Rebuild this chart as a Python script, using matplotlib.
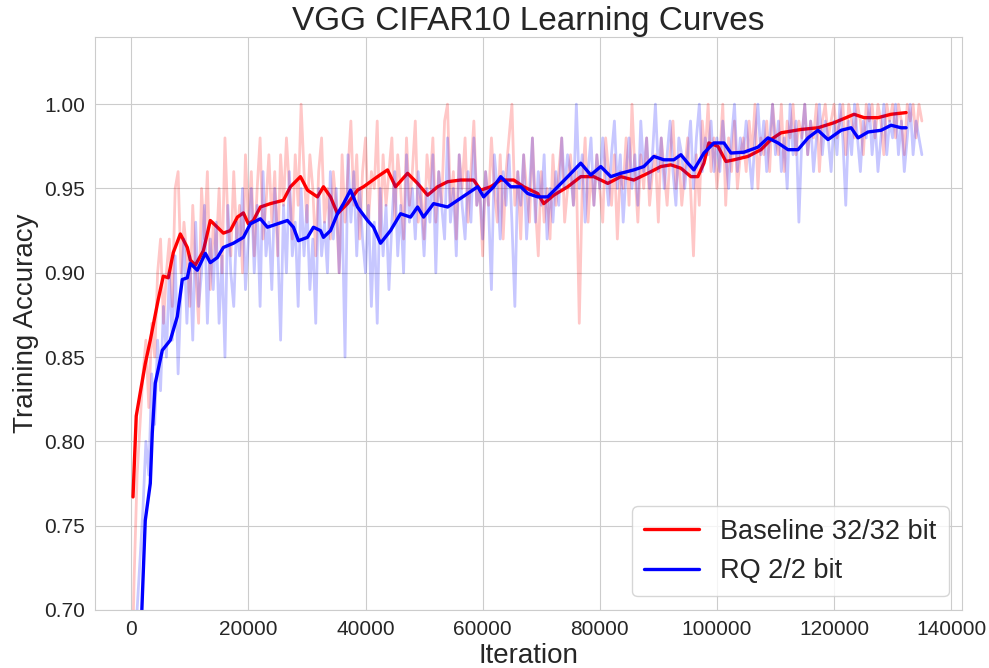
import numpy as np
import matplotlib
matplotlib.use("Agg")
import matplotlib.pyplot as plt
import seaborn as sns

# raw training accuracy (percent), one sample every 500 iterations
raw_iter = np.arange(0, 135500, 500)

baseline_raw = [
    64, 72, 78, 81, 84, 86, 82, 87, 85, 90,
    92, 87, 90, 92, 88, 95, 96, 90, 93, 91,
    88, 94, 90, 87, 95, 92, 96, 89, 93, 91,
    95, 90, 98, 93, 91, 96, 92, 94, 90, 97,
    93, 96, 91, 95, 98, 92, 94, 97, 93, 96,
    91, 97, 94, 98, 95, 92, 97, 94, 100, 96,
    93, 97, 95, 91, 96, 98, 93, 95, 92, 96,
    94, 90, 97, 93, 96, 99, 94, 97, 92, 96,
    98, 93, 96, 95, 99, 92, 97, 94, 96, 98,
    93, 97, 95, 92, 98, 94, 96, 99, 93, 95,
    92, 97, 95, 98, 93, 96, 94, 99, 100, 94,
    96, 92, 97, 95, 98, 93, 96, 99, 94, 95,
    91, 96, 94, 98, 95, 93, 97, 92, 96, 98,
    100, 94, 96, 92, 97, 95, 93, 98, 94, 91,
    96, 93, 95, 92, 97, 94, 96, 98, 93, 95,
    97, 94, 96, 87, 95, 98, 93, 96, 94, 97,
    95, 93, 98, 96, 94, 97, 92, 96, 95, 98,
    94, 100, 96, 93, 97, 95, 98, 94, 96, 97,
    93, 98, 96, 94, 97, 99, 95, 97, 94, 96,
    98, 95, 91, 97, 94, 99, 97, 100, 96, 98,
    95, 97, 100, 94, 98, 96, 99, 95, 97, 98,
    96, 99, 97, 100, 95, 98, 97, 99, 96, 100,
    98, 97, 100, 96, 99, 98, 100, 97, 99, 98,
    100, 97, 99, 98, 100, 96, 99, 100, 98, 99,
    100, 98, 99, 100, 97, 100, 99, 98, 100, 99,
    97, 100, 99, 100, 98, 100, 99, 97, 100, 99,
    100, 98, 100, 99, 97, 100, 99, 100, 98, 100,
    99,
]

rq_raw = [
    60, 66, 70, 73, 76, 80, 78, 84, 81, 86,
    83, 88, 85, 90, 86, 91, 84, 89, 92, 87,
    91, 86, 93, 88, 90, 94, 87, 92, 89, 93,
    87, 91, 85, 94, 90, 88, 93, 91, 95, 89,
    92, 95, 90, 94, 88, 96, 91, 93, 89, 95,
    92, 86, 94, 90, 96, 91, 93, 88, 95, 91,
    94, 89, 92, 87, 95, 91, 93, 90, 96, 92,
    95, 90, 94, 85, 97, 93, 96, 91, 95, 92,
    90, 94, 88, 93, 87, 95, 91, 94, 89, 93,
    96, 91, 94, 90, 97, 93, 95, 92, 96, 94,
    91, 95, 93, 97, 90, 96, 94, 92, 98, 93,
    95, 91, 97, 94, 92, 96, 93, 98, 94, 95,
    92, 96, 94, 89, 97, 95, 92, 96, 94, 97,
    93, 88, 96, 94, 97, 92, 95, 98, 93, 96,
    94, 97, 92, 95, 93, 96, 94, 98, 95, 97,
    96, 94, 100, 95, 97, 93, 96, 98, 94, 97,
    95, 98, 96, 94, 97, 99, 95, 97, 93, 96,
    98, 95, 97, 94, 99, 96, 98, 95, 97, 100,
    96, 98, 95, 97, 99, 96, 94, 98, 97, 95,
    97, 99, 95, 98, 100, 96, 98, 97, 99, 96,
    98, 96, 99, 97, 95, 98, 100, 96, 98, 97,
    99, 97, 95, 98, 100, 97, 99, 96, 98, 100,
    97, 99, 96, 98, 95, 100, 97, 99, 93, 98,
    100, 97, 99, 96, 98, 100, 97, 99, 98, 96,
    99, 97, 100, 98, 94, 99, 97, 100, 98, 96,
    99, 98, 100, 97, 99, 96, 98, 100, 97, 99,
    98, 100, 97, 99, 96, 98, 100, 97, 99, 98,
    97,
]

# smoothed curves
baseline_iter = [300, 850, 1540, 2390, 3250, 4600, 5470, 6320, 7180, 8380,
                 9570, 10090, 10940, 12310, 13500, 14700, 15730, 16920, 18120, 19150,
                 20000, 20850, 22050, 23760, 25980, 27180, 28890, 30090, 31790, 32820,
                 34020, 35210, 36920, 38630, 39660, 42050, 43760, 45130, 47180, 48890,
                 50600, 52310, 54020, 56240, 58460, 59660, 61370, 63080, 65300, 67010,
                 69400, 70430, 72140, 74530, 76750, 78970, 81370, 83590, 85810, 88200,
                 90430, 92140, 93850, 95560, 96750, 97780, 98630, 100170, 101540, 102910,
                 105300, 107520, 109230, 110940, 114360, 117260, 120000, 123420, 125130, 127520,
                 129740, 132310]
baseline_smooth = [0.767, 0.815, 0.829, 0.846, 0.860, 0.884, 0.898, 0.897, 0.912, 0.923,
                   0.915, 0.9075, 0.9045, 0.913, 0.931, 0.927, 0.9235, 0.925, 0.933, 0.9355,
                   0.929, 0.931, 0.939, 0.941, 0.943, 0.951, 0.957, 0.949, 0.945, 0.951,
                   0.945, 0.935, 0.941, 0.949, 0.951, 0.957, 0.961, 0.951, 0.959, 0.953,
                   0.946, 0.951, 0.954, 0.955, 0.955, 0.949, 0.951, 0.955, 0.955, 0.951,
                   0.947, 0.941, 0.946, 0.951, 0.957, 0.957, 0.953, 0.957, 0.955, 0.959,
                   0.963, 0.964, 0.962, 0.957, 0.957, 0.965, 0.977, 0.975, 0.966, 0.967,
                   0.969, 0.973, 0.979, 0.983, 0.985, 0.986, 0.989, 0.994, 0.992, 0.992,
                   0.994, 0.995]

rq_iter = [1700, 2390, 3250, 3590, 4100, 4440, 5300, 6670, 7860, 8720,
           9570, 10090, 11280, 12650, 13500, 14700, 15730, 17440, 19150, 20340,
           22050, 23250, 24960, 26670, 27690, 28550, 30090, 31110, 32310, 32820,
           34020, 35210, 36240, 37440, 38630, 40340, 41370, 42560, 44270, 45980,
           47690, 48890, 49910, 51620, 54020, 55730, 57440, 59150, 60170, 61880,
           63080, 64790, 66500, 67690, 69400, 71110, 72820, 74530, 76750, 78460,
           80170, 81880, 83590, 85810, 87520, 89230, 90940, 92650, 93850, 95040,
           96070, 97780, 99490, 101200, 102390, 104620, 107010, 108720, 110430, 112140,
           113850, 115560, 117260, 118970, 121200, 122910, 124100, 125810, 128030, 129740,
           131450, 132310]
rq_smooth = [0.690, 0.753, 0.775, 0.805, 0.8345, 0.840, 0.854, 0.860, 0.874, 0.896,
             0.897, 0.9055, 0.9015, 0.9115, 0.906, 0.909, 0.915, 0.9175, 0.921, 0.929,
             0.932, 0.927, 0.929, 0.931, 0.927, 0.919, 0.921, 0.927, 0.925, 0.921,
             0.925, 0.935, 0.941, 0.949, 0.939, 0.931, 0.927, 0.9175, 0.925, 0.935,
             0.933, 0.939, 0.933, 0.941, 0.939, 0.943, 0.947, 0.951, 0.945, 0.951,
             0.957, 0.951, 0.951, 0.947, 0.945, 0.945, 0.951, 0.957, 0.965, 0.958,
             0.963, 0.957, 0.959, 0.961, 0.963, 0.969, 0.967, 0.967, 0.970, 0.965,
             0.961, 0.971, 0.977, 0.977, 0.971, 0.9715, 0.9745, 0.980, 0.977, 0.973,
             0.973, 0.980, 0.9845, 0.979, 0.9845, 0.986, 0.980, 0.9835, 0.9845, 0.9875,
             0.986, 0.986]

sns.set_style("whitegrid")
plt.rcParams['font.family'] = ['Liberation Sans', 'DejaVu Sans']

fig = plt.figure(figsize=(9.89, 6.68), dpi=100)
ax = fig.add_axes([0.096, 0.087, 0.877, 0.858])

ax.plot(raw_iter, np.array(baseline_raw) / 100.0, color='r', alpha=0.22, lw=2.0)
ax.plot(baseline_iter, baseline_smooth, color='r', lw=2.4, label='Baseline 32/32 bit')
ax.plot(raw_iter, np.array(rq_raw) / 100.0, color='b', alpha=0.22, lw=2.0)
ax.plot(rq_iter, rq_smooth, color='b', lw=2.4, label='RQ 2/2 bit')

ax.set_xlim(-6200, 141900)
ax.set_ylim(0.70, 1.04)
ax.set_yticks([0.70, 0.75, 0.80, 0.85, 0.90, 0.95, 1.00])
ax.set_xticks(np.arange(0, 140001, 20000))
ax.tick_params(labelsize=15)

ax.set_title('VGG CIFAR10 Learning Curves', fontsize=24, pad=5)
ax.set_xlabel('Iteration', fontsize=20, labelpad=3.5)
ax.set_ylabel('Training Accuracy', fontsize=20)

ax.legend(loc='lower right', fontsize=19.5, borderpad=0.45, handletextpad=0.8)

fig.savefig('out.png', dpi=100)
